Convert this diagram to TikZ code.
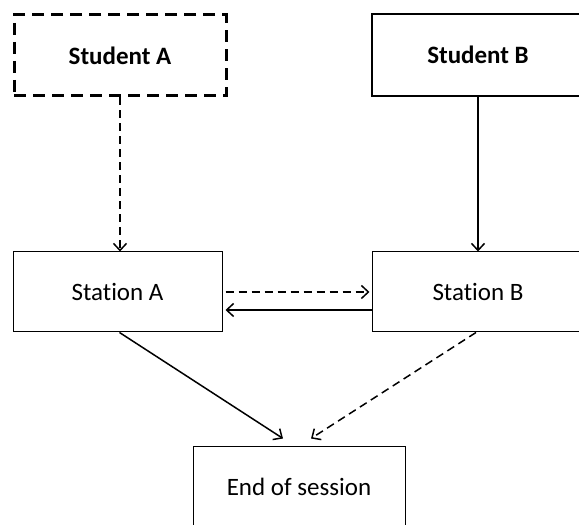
\documentclass[tikz,border=0pt]{standalone}
\usepackage{fontspec}
\setmainfont{Carlito}[Ligatures={NoCommon,NoContextual}]
\usetikzlibrary{positioning,arrows.meta}

\begin{document}
\begin{tikzpicture}
  [x=1pt,y=1pt,
  box/.style={
    rectangle,
    draw,
    line width=1pt,
    minimum width=212pt,
    minimum height=80pt,
    align=center,
    font=\fontsize{25}{30}\selectfont
    },
  studentbox/.style={
    box,
    font=\fontsize{25}{30}\selectfont\bfseries
    },
  link/.style={
    line width=1.5pt,
    -{Straight Barb[length=7pt,width=13pt,line width=1.5pt]}
    },
  dashedlink/.style={
    link,
    dash pattern=on 8pt off 5pt
    }
  ]
  \useasboundingbox (0,0) rectangle (579,525);
  \clip (0,0) rectangle (579,525);

  \node [studentbox, line width=3pt, dash pattern=on 12pt off 7pt, minimum height=81pt] (studenta) at (120,469.5) {Student A};
  \node [studentbox, line width=2pt, minimum height=82pt] (studentb) at (478,470) {Student B};

  \node [box, minimum width=209pt] (stationa) at (117.5,233) {Station A};
  \node [box] (stationb) at (478,233) {Station B};

  \node [box] (endsession) at (299,38) {End of session};

  % arrows
  \draw[dashedlink] (studenta.south) -- (studenta.south |- stationa.north);
  \draw[link] (studentb.south) -- (stationb.north);

  \draw[dashedlink] ([xshift=3pt]stationa.east) -- ([xshift=-2pt]stationb.west);
  \draw[link] ([yshift=-18pt]stationb.west) -- ([xshift=3pt,yshift=-18pt]stationa.east);

  \draw[link] ([xshift=2pt]stationa.south) -- ([xshift=-16pt,yshift=8pt]endsession.north);
  \draw[dashedlink] ([xshift=-2pt]stationb.south) -- ([xshift=12pt,yshift=8pt]endsession.north);
\end{tikzpicture}
\end{document}
